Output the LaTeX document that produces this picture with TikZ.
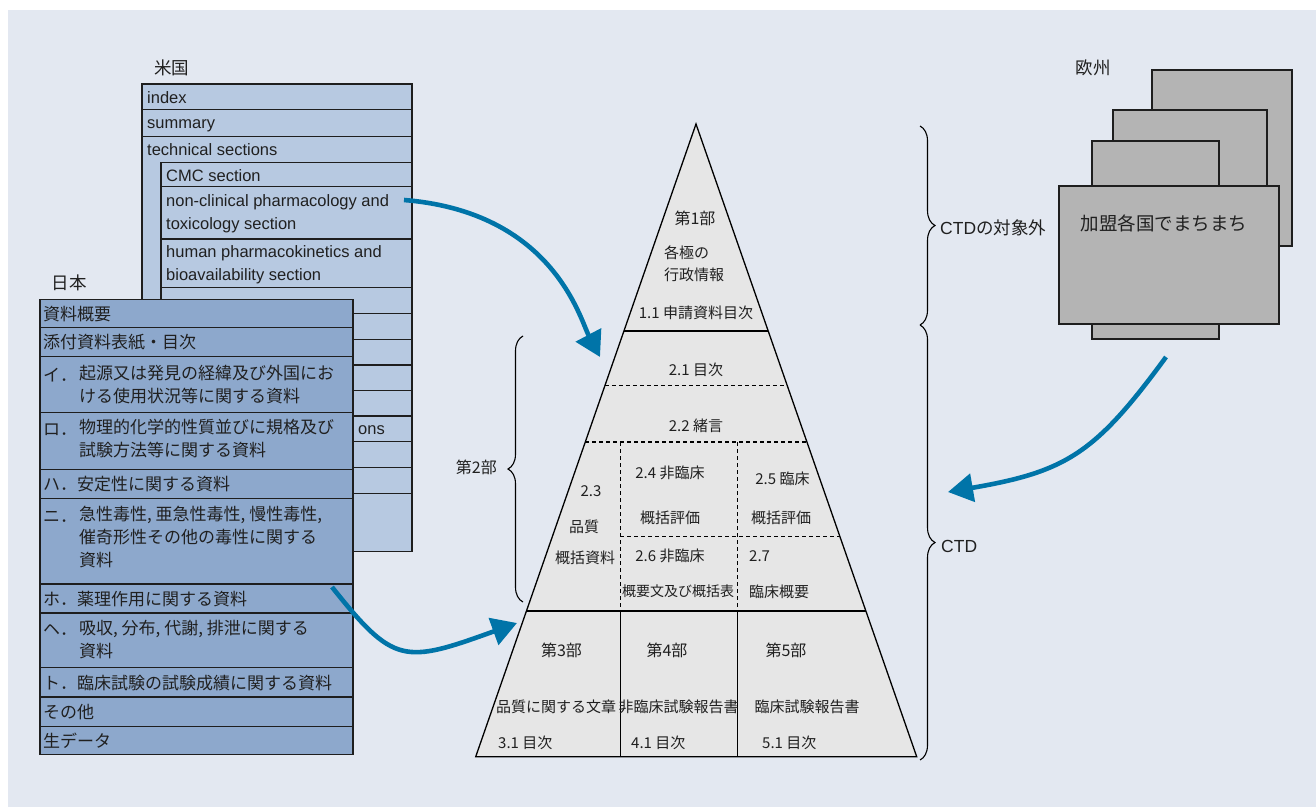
\documentclass[tikz,border=0pt]{standalone}
\usepackage{fontspec}
\setmainfont{Liberation Sans}
\newfontfamily\jp{Noto Sans CJK JP}
\usetikzlibrary{arrows.meta,decorations.pathreplacing}
\definecolor{bgc}{RGB}{227,232,241}
\definecolor{usc}{RGB}{183,201,225}
\definecolor{jpc}{RGB}{141,168,204}
\definecolor{pyc}{RGB}{230,230,230}
\definecolor{euc}{RGB}{180,180,180}
\definecolor{arc}{RGB}{0,116,168}
\definecolor{txc}{RGB}{32,32,32}
\definecolor{lnc}{RGB}{30,30,30}
\tikzset{
  tb/.style={draw=lnc, line width=1.4pt},
  en/.style={font=\fontsize{16.5}{23}\selectfont, text=txc, inner sep=0pt, align=left},
  en1/.style={en, text height=12.5pt, text depth=1pt},
  jt/.style={font=\jp\fontsize{17}{23}\selectfont, text=txc, inner sep=0pt, align=left},
  pt/.style={font=\jp\fontsize{15}{22.3}\selectfont, text=txc, inner sep=0pt, align=left},
  lb/.style={font=\jp\fontsize{17.5}{22}\selectfont, text=txc, inner sep=0pt},
  pyline/.style={draw=black, line width=1.3pt},
  pydash/.style={draw=black, line width=1.1pt, dash pattern=on 4pt off 3pt},
  br/.style={draw=black, line width=1.1pt, decorate, decoration={brace, amplitude=15pt}},
  eubox/.style={draw=lnc, line width=1.4pt, fill=euc},
  arr/.style={draw=arc, line width=4.6pt, -{Triangle[length=25pt,width=28pt]}},
}
\begin{document}
\begin{tikzpicture}[x=1pt,y=-1pt]
\useasboundingbox (0,0) rectangle (1316,807);
\fill[white] (0,0) rectangle (1316,807);
\fill[bgc] (8,10) rectangle (1316,807);

% ---------- US table ----------
\node[lb] (usl) at (171.5,68) {米国};
\draw[tb, fill=usc] (142,84) rectangle (412,551.7);
\foreach \yy in {109.3,136.7} \draw[tb] (142,\yy) -- (412,\yy);
\foreach \yy in {162.3,186.7,239,287.3,313.3,339.3,365,390.7,416,441.7,467.3,493.3}
  \draw[tb] (161,\yy) -- (412,\yy);
\draw[tb] (161,162.3) -- (161,551.7);
\node[en1, anchor=west] (u1) at (147,97.5) {index};
\node[en1, anchor=west] (u2) at (147,122.5) {summary};
\node[en1, anchor=west] (u3) at (147,149.5) {technical sections};
\node[en1, anchor=west] (u4) at (166,175.5) {CMC section};
\node[en, anchor=west] (u5) at (166,213.5) {non-clinical pharmacology and\\toxicology section};
\node[en, anchor=west] (u6) at (166,264.5) {human pharmacokinetics and\\bioavailability section};
\node[en1, anchor=west] (u7) at (358,429) {ons};

% ---------- Japan table ----------
\node[lb] (jpl) at (69,283) {日本};
\foreach \ya/\yb in {299.3/327.7,327.7/356.7,356.7/412.7,412.7/469.3,469.3/498.7,498.7/584,584/613,613/667.7,667.7/697,697/726.3,726.3/754.3}
  \draw[tb, fill=jpc] (40,\ya) rectangle (353,\yb);
\node[jt, anchor=west] (j1) at (43,314) {資料概要};
\node[jt, anchor=west] (j2) at (43,342.5) {添付資料表紙・目次};
\node[jt, anchor=west] (j3m) at (43,375) {イ．};
\node[jt, anchor=north west] (j3) at (79,364.5) {起源又は発見の経緯及び外国にお\\ける使用状況等に関する資料};
\node[jt, anchor=west] (j4m) at (43,429.5) {ロ．};
\node[jt, anchor=north west] (j4) at (79,419) {物理的化学的性質並びに規格及び\\試験方法等に関する資料};
\node[jt, anchor=west] (j5) at (43,484) {ハ．安定性に関する資料};
\node[jt, anchor=west] (j6m) at (43,516.5) {ニ．};
\node[jt, anchor=north west] (j6) at (79,506) {急性毒性, 亜急性毒性, 慢性毒性,\\催奇形性その他の毒性に関する\\資料};
\node[jt, anchor=west] (j7) at (43,599) {ホ．薬理作用に関する資料};
\node[jt, anchor=west] (j8m) at (43,630) {ヘ．};
\node[jt, anchor=north west] (j8) at (79,619.5) {吸収, 分布, 代謝, 排泄に関する\\資料};
\node[jt, anchor=west] (j9) at (43,683) {ト．臨床試験の試験成績に関する資料};
\node[jt, anchor=west] (j10) at (43,712.5) {その他};
\node[jt, anchor=west] (j11) at (43,741) {生データ};

% ---------- Pyramid ----------
\filldraw[pyline, fill=pyc] (696,124) -- (916.7,756.7) -- (475.7,756.7) -- cycle;
\draw[pyline] (623.8,331) -- (768.2,331);
\draw[pydash] (604.8,385.7) -- (787.2,385.7);
\draw[pydash] (585.1,442) -- (806.9,442);
\draw[pydash] (620.3,536.7) -- (839.9,536.7);
\draw[pydash] (620.3,442) -- (620.3,611);
\draw[pydash] (737.7,442) -- (737.7,611);
\draw[pyline] (526.2,611) -- (865.8,611);
\draw[pyline] (620.3,611) -- (620.3,756.7);
\draw[pyline] (737.7,611) -- (737.7,756.7);

\node[pt, font=\jp\fontsize{16}{22.3}\selectfont] (p1) at (695,218) {第1部};
\node[pt, anchor=west] (p1b) at (664,264) {各極の\\行政情報};
\node[pt] (p11) at (696,313) {1.1 申請資料目次};
\node[pt] (p21) at (696,370) {2.1 目次};
\node[pt] (p22) at (696,426) {2.2 緒言};
\node[pt] (p23) at (591,491.5) {2.3};
\node[pt] (p23b) at (584,527) {品質};
\node[pt] (p23c) at (585,558) {概括資料};
\node[pt] (p24) at (670,473) {2.4 非臨床};
\node[pt] (p24b) at (670,518) {概括評価};
\node[pt] (p25) at (782.5,479) {2.5 臨床};
\node[pt] (p25b) at (781,518) {概括評価};
\node[pt] (p26) at (670,556) {2.6 非臨床};
\node[pt, font=\jp\fontsize{14}{20}\selectfont] (p26b) at (678,591.5) {概要文及び概括表};
\node[pt, anchor=west] (p27) at (749,556) {2.7};
\node[pt, anchor=west] (p27b) at (749,591.5) {臨床概要};
\node[pt, font=\jp\fontsize{16}{22.3}\selectfont] (p3) at (561.5,650) {第3部};
\node[pt, font=\jp\fontsize{16}{22.3}\selectfont] (p4) at (667,650) {第4部};
\node[pt, font=\jp\fontsize{16}{22.3}\selectfont] (p5) at (786,650) {第5部};
\node[pt] (p3b) at (556,706.5) {品質に関する文章};
\node[pt] (p4b) at (678.5,706.5) {非臨床試験報告書};
\node[pt] (p5b) at (807,706.5) {臨床試験報告書};
\node[pt, anchor=west] (p3c) at (498,743) {3.1 目次};
\node[pt, anchor=west] (p4c) at (631,743) {4.1 目次};
\node[pt, anchor=west] (p5c) at (762,743) {5.1 目次};

% ---------- Braces ----------
\draw[br] (920,126) -- (920,325);
\draw[br] (920,325) -- (920,760);
\draw[br] (523,602) -- (523,336);
\node[lb, anchor=west] (c1) at (940,228) {\fontspec{Liberation Sans}CTD\jp の対象外};
\node[lb, anchor=west] (c2) at (941,546) {\fontspec{Liberation Sans}CTD};
\node[pt, font=\jp\fontsize{16}{20}\selectfont, anchor=east] (c3) at (497,467) {第2部};

% ---------- Europe ----------
\node[lb] (eul) at (1093,68) {欧州};
\filldraw[eubox] (1152,70) rectangle (1292,246);
\filldraw[eubox] (1113,110) rectangle (1267,300);
\filldraw[eubox] (1092,141) rectangle (1219,339);
\filldraw[eubox] (1059,186) rectangle (1279,324);
\node[lb, font=\jp\fontsize{18.5}{22}\selectfont] (eut) at (1164,223) {加盟各国でまちまち};

% ---------- Arrows ----------
\coordinate (a1s) at (404,200);
\coordinate (a1e) at (600,357);
\coordinate (a2s) at (332,587);
\coordinate (a2e) at (517,623);
\coordinate (a3s) at (1166,357);
\coordinate (a3e) at (948,492);
\draw[arr] (a1s) .. controls (553,212) and (580,319) .. (a1e);
\draw[arr] (a2s) .. controls (394,665) and (404,663.8) .. (a2e);
\draw[arr] (a3s) .. controls (1095,454) and (1066,471.6) .. (a3e);
\end{tikzpicture}
\end{document}
